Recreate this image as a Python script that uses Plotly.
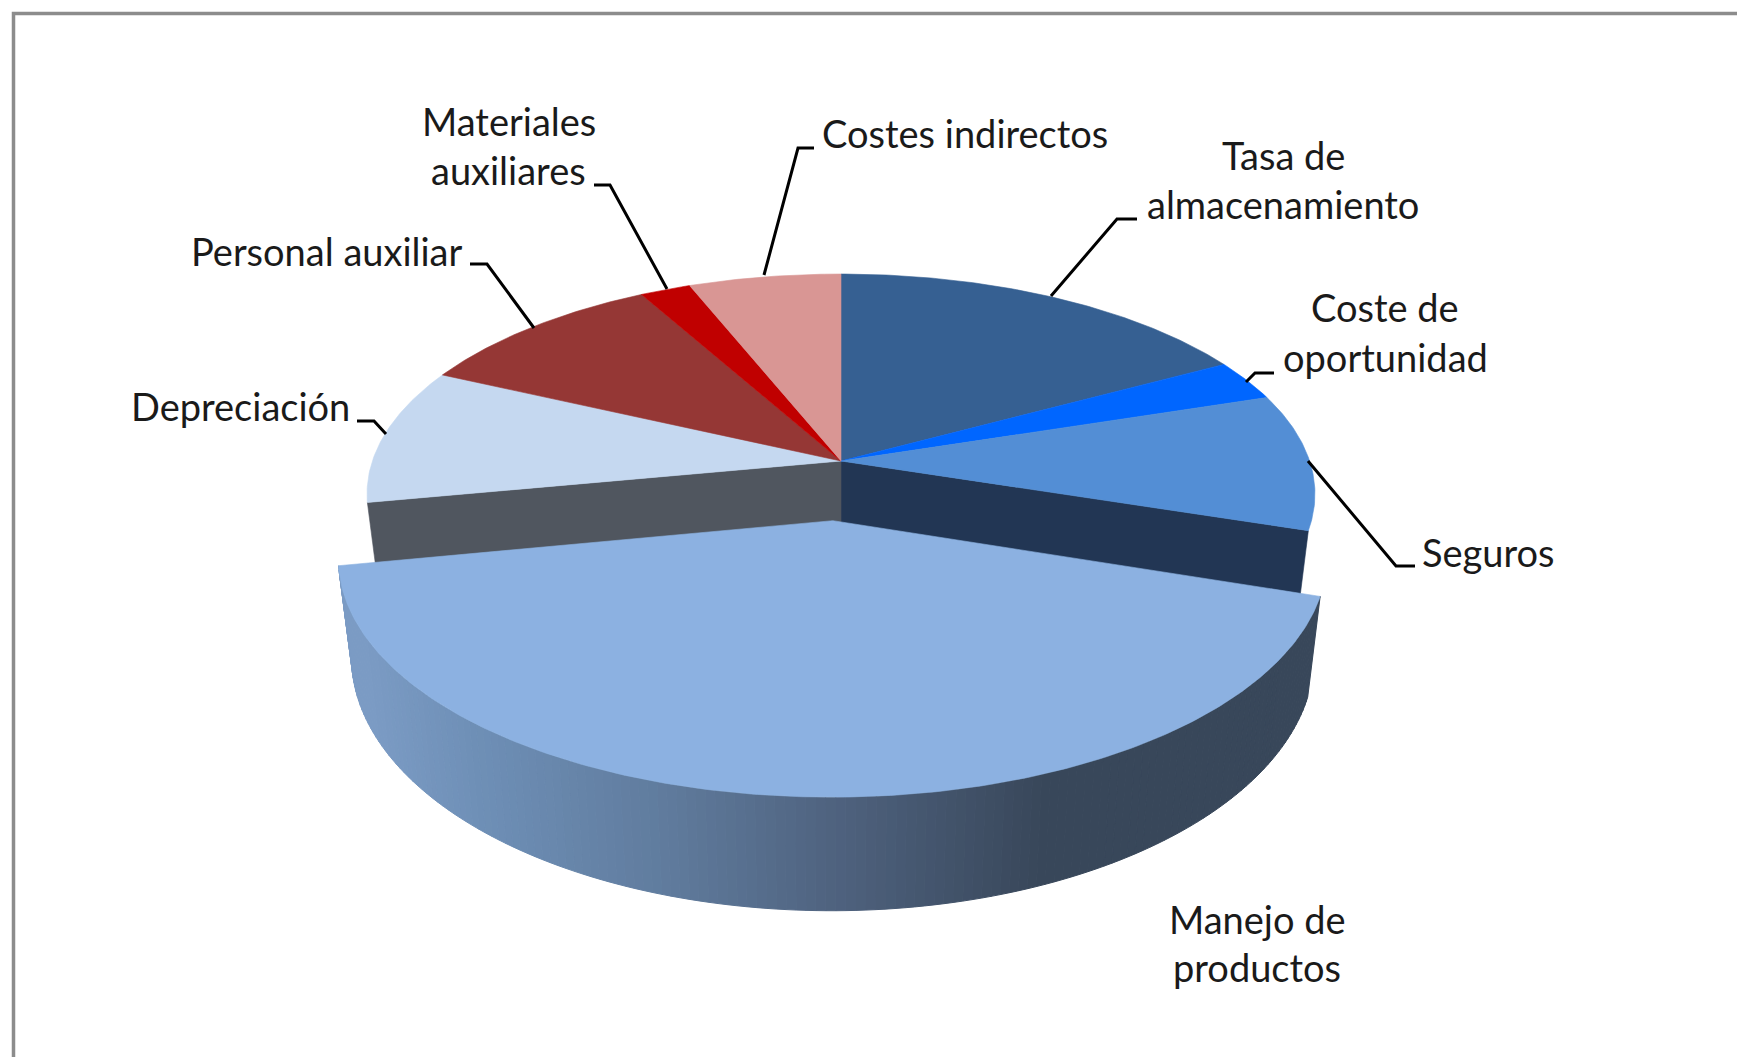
import math
import plotly.graph_objects as go

# ---- data ----
categories = ["Tasa de almacenamiento", "Coste de oportunidad", "Seguros", "Manejo de productos",
              "Depreciación", "Personal auxiliar", "Materiales auxiliares", "Costes indirectos"]
values = [17, 3, 10, 42, 10, 10, 2, 6]
colors = ["#366092", "#0066FF", "#538ED5", "#8CB1E1", "#C5D8F0", "#953735", "#C00000", "#D99694"]
pulled = "Manejo de productos"

label_lines = [["Tasa de", "almacenamiento"], ["Coste de", "oportunidad"], ["Seguros"],
               ["Manejo de", "productos"], ["Depreciación"], ["Personal auxiliar"],
               ["Materiales", "auxiliares"], ["Costes indirectos"]]
label_x = [1283, 1385, 1488, 1257, 240, 326, 508.5, 965]
label_y = [[155, 204], [307, 357], [552], [919, 967], [406], [251], [121, 170], [133]]
leaders = [[(1137, 219), (1117, 219), (1051, 296)],
           [(1274, 373), (1255, 373), (1246, 382)],
           [(1415, 566), (1396, 566), (1308, 461)],
           None,
           [(357, 421), (374, 421), (386, 434)],
           [(470, 264), (487, 264), (534, 328)],
           [(594, 185), (610, 185), (667, 289)],
           [(814, 148), (798, 148), (764, 275)]]

# ---- projection of the tilted pie (perspective) ----
CX, CY, R, S, K, H, PULL = 841, 461, 468.6, 215, 0.15, 92, 0.267
DEPTH_SHRINK = 0.974
WALL_STOPS = [(370, (123, 155, 196)), (480, (110, 143, 182)), (660, (96, 124, 158)),
              (850, (77, 96, 124)), (1040, (56, 71, 90)), (1300, (56, 71, 90))]


def project(theta, r=1.0, pu=0.0, pv=0.0, depth=0.0):
    u = r * math.sin(theta) + pu
    v = -r * math.cos(theta) + pv
    w = 1 - K * v
    shrink = 1 - (1 - DEPTH_SHRINK) * depth / H
    return CX + R * u / w * shrink, CY + (S * v + depth) / w


def wall_color(x):
    if x <= WALL_STOPS[0][0]:
        c = WALL_STOPS[0][1]
    elif x >= WALL_STOPS[-1][0]:
        c = WALL_STOPS[-1][1]
    else:
        for (x0, c0), (x1, c1) in zip(WALL_STOPS, WALL_STOPS[1:]):
            if x0 <= x <= x1:
                t = (x - x0) / (x1 - x0)
                c = tuple(a + (b - a) * t for a, b in zip(c0, c1))
                break
    return "rgb(%d,%d,%d)" % tuple(round(a) for a in c)


def poly(pts, color, lw=0.6):
    xs = [p[0] for p in pts] + [pts[0][0]]
    ys = [p[1] for p in pts] + [pts[0][1]]
    return go.Scatter(x=xs, y=ys, mode="lines", fill="toself", fillcolor=color,
                      line=dict(color=color, width=lw), hoverinfo="skip", showlegend=False)


def top(a0, a1, pu=0.0, pv=0.0):
    n = max(4, int((a1 - a0) / 0.01))
    arc = [project(a0 + (a1 - a0) * i / n, 1.0, pu, pv) for i in range(n + 1)]
    return [project(0, 0, pu, pv)] + arc


total = sum(values)
edges = [0.0]
for v in values:
    edges.append(edges[-1] + 2 * math.pi * v / total)

fig = go.Figure()
i_p = categories.index(pulled)
a0, a1 = edges[i_p], edges[i_p + 1]
mid = (a0 + a1) / 2
pu, pv = PULL * math.sin(mid), -PULL * math.cos(mid)

# cut faces left open by the pulled slice
fig.add_trace(poly([project(0, 0), project(a0), project(a0, depth=H), project(0, 0, depth=H)], "#223654"))
fig.add_trace(poly([project(0, 0), project(a1), project(a1, depth=H), project(0, 0, depth=H)], "#50565F"))

# top faces of the slices that stay in place
for i in range(len(values)):
    if i != i_p:
        fig.add_trace(poly(top(edges[i], edges[i + 1]), colors[i]))

# outer wall of the pulled slice, shaded left to right
n_wall = 150
for j in range(n_wall):
    t0 = a0 + (a1 - a0) * j / n_wall
    t1 = a0 + (a1 - a0) * (j + 1) / n_wall
    q = [project(t0, 1, pu, pv), project(t1, 1, pu, pv),
         project(t1, 1, pu, pv, H), project(t0, 1, pu, pv, H)]
    fig.add_trace(poly(q, wall_color(sum(p[0] for p in q) / 4), lw=1))

# top face of the pulled slice
fig.add_trace(poly(top(a0, a1, pu, pv), colors[i_p]))

# leader lines
for pts in leaders:
    if pts:
        fig.add_trace(go.Scatter(x=[p[0] for p in pts], y=[p[1] for p in pts], mode="lines",
                                 line=dict(color="#000000", width=3), hoverinfo="skip", showlegend=False))

# labels, one annotation per line so the line spacing follows the reference
for lines, x, ys in zip(label_lines, label_x, label_y):
    for line, y in zip(lines, ys):
        fig.add_annotation(x=x, y=y, text=line, showarrow=False, xanchor="center", yanchor="middle",
                           font=dict(family="Lato, Carlito, sans-serif", size=38, color="#1a1a1a"))

fig.update_layout(
    width=1737, height=1057, margin=dict(l=0, r=0, t=0, b=0),
    paper_bgcolor="#FFFFFF", plot_bgcolor="#FFFFFF", showlegend=False,
    xaxis=dict(range=[0, 1737], visible=False, fixedrange=True),
    yaxis=dict(range=[1057, 0], visible=False, fixedrange=True),
    shapes=[dict(type="path", xref="x", yref="y", path="M 13.5 1057 L 13.5 13.5 L 1737 13.5",
                 line=dict(color="#8C8C8C", width=3.5))],
)

fig.write_html("out.html", config=dict(displayModeBar=False),
               post_script="document.body.style.margin='0';document.body.style.overflow='hidden';")
